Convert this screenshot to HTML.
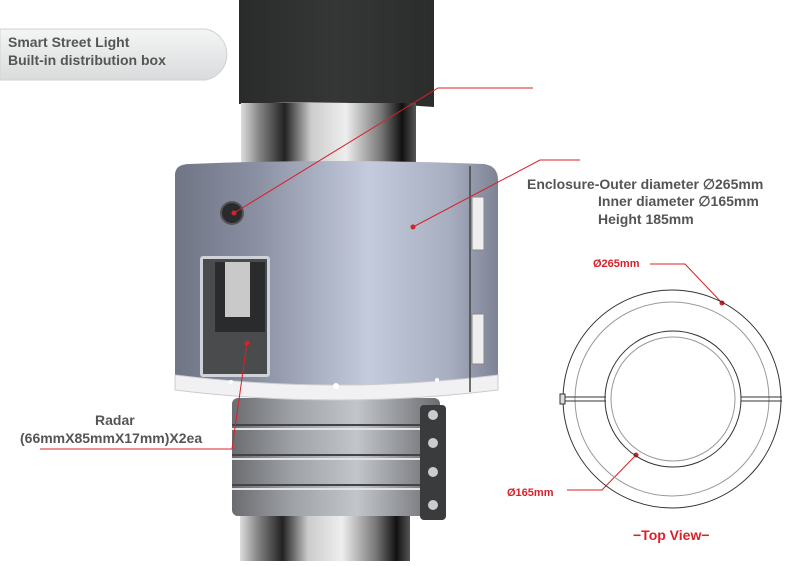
<!DOCTYPE html>
<html><head><meta charset="utf-8"><style>
body{margin:0;width:800px;height:561px;overflow:hidden;background:#fff;font-family:"Liberation Sans",sans-serif}
</style></head><body>
<svg width="800" height="561" viewBox="0 0 800 561" xmlns="http://www.w3.org/2000/svg">
<defs>
<linearGradient id="blk" x1="0" x2="1"><stop offset="0" stop-color="#2a2b2b"/><stop offset=".5" stop-color="#353736"/><stop offset="1" stop-color="#2b2c2c"/></linearGradient>
<linearGradient id="chr" x1="0" x2="1"><stop offset="0" stop-color="#ddd"/><stop offset=".1" stop-color="#888"/><stop offset=".25" stop-color="#222"/><stop offset=".4" stop-color="#ccc"/><stop offset=".6" stop-color="#eee"/><stop offset=".8" stop-color="#777"/><stop offset=".92" stop-color="#111"/><stop offset="1" stop-color="#555"/></linearGradient>
<linearGradient id="enc" x1="0" x2="1"><stop offset="0" stop-color="#6f7585"/><stop offset=".25" stop-color="#8a90a2"/><stop offset=".6" stop-color="#c4cbdd"/><stop offset=".85" stop-color="#a7aec0"/><stop offset="1" stop-color="#7d8394"/></linearGradient>
<linearGradient id="clp" x1="0" x2="1"><stop offset="0" stop-color="#6a6c70"/><stop offset=".3" stop-color="#a0a3a8"/><stop offset=".6" stop-color="#c2c5ca"/><stop offset="1" stop-color="#6a6c70"/></linearGradient>
<linearGradient id="lbl" x1="0" y1="0" x2="0" y2="1"><stop offset="0" stop-color="#f4f5f5"/><stop offset="1" stop-color="#d9dbdc"/></linearGradient>
</defs>
<path d="M0 29 H206 A26 26 0 0 1 206 80 H0 Z" fill="url(#lbl)" stroke="#d0d2d3"/>
<text x="8" y="47" font-size="14" font-weight="bold" fill="#555">Smart Street Light</text>
<text x="8" y="65" font-size="14" font-weight="bold" fill="#555">Built-in distribution box</text>
<rect x="240" y="500" width="170" height="61" fill="url(#chr)"/>
<rect x="232" y="398" width="208" height="118" rx="6" fill="url(#clp)"/>
<g stroke="#444" stroke-width="2"><line x1="232" y1="425" x2="440" y2="425"/><line x1="232" y1="455" x2="440" y2="455"/><line x1="232" y1="485" x2="440" y2="485"/></g>
<g stroke="#e0e2e6" stroke-width="2"><line x1="232" y1="429" x2="420" y2="429"/><line x1="232" y1="459" x2="420" y2="459"/><line x1="232" y1="489" x2="420" y2="489"/></g>
<rect x="420" y="405" width="26" height="115" rx="4" fill="#3a3b3d"/>
<g fill="#ccc"><circle cx="433" cy="415" r="5"/><circle cx="433" cy="443" r="5"/><circle cx="433" cy="472" r="5"/><circle cx="433" cy="505" r="5"/></g>
<path d="M239 0 H434 V107 Q336 100 239 104 Z" fill="url(#blk)"/>
<rect x="241" y="103" width="175" height="62" fill="url(#chr)"/>
<path d="M175 175 Q175 164 190 164 Q336 158 484 164 Q498 166 498 180 V390 Q336 410 175 390 Z" fill="url(#enc)"/>
<path d="M175 375 Q336 395 498 375 V390 Q336 410 175 390 Z" fill="#f1f1f3" stroke="#ccc"/>
<line x1="470" y1="166" x2="470" y2="392" stroke="#444" stroke-width="1.5"/>
<rect x="472" y="197" width="12" height="53" fill="#eee" stroke="#888"/>
<rect x="472" y="314" width="12" height="50" fill="#eee" stroke="#888"/>
<circle cx="232" cy="213" r="11" fill="#2a2a2c" stroke="#555" stroke-width="2"/>
<rect x="200" y="256" width="70" height="121" rx="3" fill="#cfd2d8"/>
<rect x="203" y="259" width="64" height="115" fill="#4a4b4d"/>
<rect x="215" y="262" width="50" height="70" fill="#2a2b2d"/>
<rect x="225" y="262" width="25" height="55" fill="#c9c9c9"/>
<g fill="#fff"><circle cx="336" cy="386" r="3"/><circle cx="231" cy="382" r="2"/><circle cx="437" cy="380" r="2"/></g>
<g stroke="#d8212a" stroke-width="1" fill="none">
<polyline points="234,213 438,88 533,88"/>
<polyline points="413,227 540,160 580,160"/>
<polyline points="247,343 232,449 40,449"/>
<polyline points="650,264 685,264 722,303"/>
<polyline points="567,490 602,490 636,455"/>
</g>
<g fill="#d8212a"><circle cx="234" cy="213" r="2.5"/><circle cx="413" cy="227" r="2.5"/><circle cx="247" cy="343" r="2.5"/><circle cx="722" cy="303" r="2.5"/><circle cx="636" cy="455" r="2.5"/></g>
<g font-size="14" font-weight="bold" fill="#555">
<text x="527" y="189">Enclosure-Outer diameter ∅265mm</text>
<text x="598" y="206">Inner diameter ∅165mm</text>
<text x="598" y="224">Height 185mm</text>
<text x="95" y="425">Radar</text>
<text x="20" y="443">(66mmX85mmX17mm)X2ea</text>
</g>
<g fill="none" stroke="#333" stroke-width="1">
<circle cx="672" cy="399" r="109"/>
<circle cx="672" cy="399" r="97" stroke="#999"/>
<circle cx="673" cy="399" r="68"/>
<circle cx="673" cy="399" r="62" stroke="#999"/>
<line x1="563" y1="397" x2="606" y2="397"/><line x1="563" y1="401" x2="606" y2="401"/>
<line x1="741" y1="397" x2="782" y2="397"/><line x1="741" y1="401" x2="782" y2="401"/>
</g>
<rect x="560" y="394" width="5" height="10" fill="#ddd" stroke="#333"/>
<text x="593" y="267" font-size="11" fill="#d8212a" font-weight="bold">Ø265mm</text>
<text x="507" y="496" font-size="11" fill="#d8212a" font-weight="bold">Ø165mm</text>
<text x="633" y="540" font-size="14" fill="#d8212a" font-weight="bold">−Top View−</text>
</svg>
</body></html>
